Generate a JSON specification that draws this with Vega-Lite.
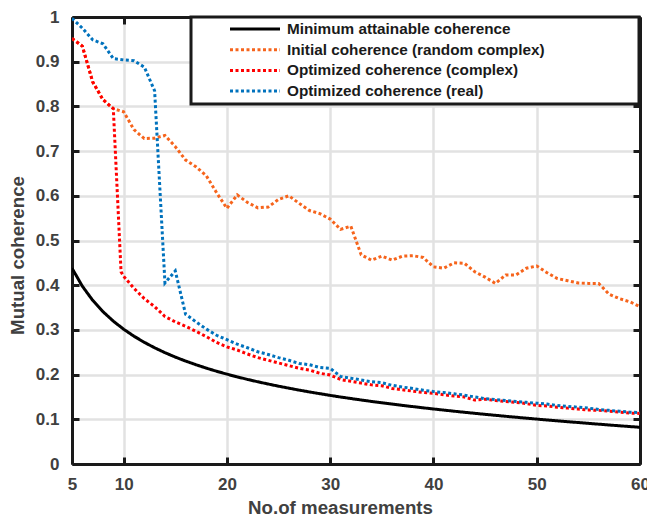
{
  "$schema": "https://vega.github.io/schema/vega-lite/v6.json",
  "width": 568,
  "height": 447,
  "autosize": {"type": "none"},
  "padding": {"left": 72, "top": 17, "right": 7, "bottom": 53},
  "background": "white",
  "data": {"values": [
    {"m": 5, "Minimum attainable coherence": 0.4381, "Initial coherence (random complex)": 0.952, "Optimized coherence (complex)": 0.952, "Optimized coherence (real)": 0.997},
    {"m": 6, "Minimum attainable coherence": 0.3978, "Initial coherence (random complex)": 0.935, "Optimized coherence (complex)": 0.935, "Optimized coherence (real)": 0.975},
    {"m": 7, "Minimum attainable coherence": 0.3663, "Initial coherence (random complex)": 0.855, "Optimized coherence (complex)": 0.855, "Optimized coherence (real)": 0.949},
    {"m": 8, "Minimum attainable coherence": 0.3408, "Initial coherence (random complex)": 0.815, "Optimized coherence (complex)": 0.815, "Optimized coherence (real)": 0.94},
    {"m": 9, "Minimum attainable coherence": 0.3196, "Initial coherence (random complex)": 0.795, "Optimized coherence (complex)": 0.795, "Optimized coherence (real)": 0.907},
    {"m": 9.75, "Optimized coherence (complex)": 0.43},
    {"m": 10, "Minimum attainable coherence": 0.3015, "Initial coherence (random complex)": 0.788, "Optimized coherence (complex)": 0.42, "Optimized coherence (real)": 0.904},
    {"m": 11, "Minimum attainable coherence": 0.2859, "Initial coherence (random complex)": 0.748, "Optimized coherence (complex)": 0.393, "Optimized coherence (real)": 0.902},
    {"m": 12, "Minimum attainable coherence": 0.2722, "Initial coherence (random complex)": 0.728, "Optimized coherence (complex)": 0.37, "Optimized coherence (real)": 0.888},
    {"m": 13, "Minimum attainable coherence": 0.26, "Initial coherence (random complex)": 0.729, "Optimized coherence (complex)": 0.352, "Optimized coherence (real)": 0.835},
    {"m": 14, "Minimum attainable coherence": 0.2491, "Initial coherence (random complex)": 0.735, "Optimized coherence (complex)": 0.33, "Optimized coherence (real)": 0.405},
    {"m": 15, "Minimum attainable coherence": 0.2392, "Initial coherence (random complex)": 0.71, "Optimized coherence (complex)": 0.318, "Optimized coherence (real)": 0.432},
    {"m": 16, "Minimum attainable coherence": 0.2303, "Initial coherence (random complex)": 0.68, "Optimized coherence (complex)": 0.308, "Optimized coherence (real)": 0.335},
    {"m": 17, "Minimum attainable coherence": 0.2221, "Initial coherence (random complex)": 0.665, "Optimized coherence (complex)": 0.297, "Optimized coherence (real)": 0.318},
    {"m": 18, "Minimum attainable coherence": 0.2145, "Initial coherence (random complex)": 0.645, "Optimized coherence (complex)": 0.285, "Optimized coherence (real)": 0.302},
    {"m": 19, "Minimum attainable coherence": 0.2075, "Initial coherence (random complex)": 0.607, "Optimized coherence (complex)": 0.272, "Optimized coherence (real)": 0.288},
    {"m": 20, "Minimum attainable coherence": 0.201, "Initial coherence (random complex)": 0.572, "Optimized coherence (complex)": 0.262, "Optimized coherence (real)": 0.278},
    {"m": 21, "Minimum attainable coherence": 0.1949, "Initial coherence (random complex)": 0.602, "Optimized coherence (complex)": 0.255, "Optimized coherence (real)": 0.268},
    {"m": 22, "Minimum attainable coherence": 0.1892, "Initial coherence (random complex)": 0.585, "Optimized coherence (complex)": 0.246, "Optimized coherence (real)": 0.26},
    {"m": 23, "Minimum attainable coherence": 0.1839, "Initial coherence (random complex)": 0.573, "Optimized coherence (complex)": 0.238, "Optimized coherence (real)": 0.251},
    {"m": 24, "Minimum attainable coherence": 0.1789, "Initial coherence (random complex)": 0.575, "Optimized coherence (complex)": 0.232, "Optimized coherence (real)": 0.245},
    {"m": 25, "Minimum attainable coherence": 0.1741, "Initial coherence (random complex)": 0.592, "Optimized coherence (complex)": 0.226, "Optimized coherence (real)": 0.238},
    {"m": 26, "Minimum attainable coherence": 0.1696, "Initial coherence (random complex)": 0.6, "Optimized coherence (complex)": 0.22, "Optimized coherence (real)": 0.232},
    {"m": 27, "Minimum attainable coherence": 0.1653, "Initial coherence (random complex)": 0.583, "Optimized coherence (complex)": 0.214, "Optimized coherence (real)": 0.225},
    {"m": 28, "Minimum attainable coherence": 0.1612, "Initial coherence (random complex)": 0.567, "Optimized coherence (complex)": 0.21, "Optimized coherence (real)": 0.222},
    {"m": 29, "Minimum attainable coherence": 0.1573, "Initial coherence (random complex)": 0.56, "Optimized coherence (complex)": 0.203, "Optimized coherence (real)": 0.216},
    {"m": 30, "Minimum attainable coherence": 0.1535, "Initial coherence (random complex)": 0.548, "Optimized coherence (complex)": 0.199, "Optimized coherence (real)": 0.214},
    {"m": 31, "Minimum attainable coherence": 0.1499, "Initial coherence (random complex)": 0.525, "Optimized coherence (complex)": 0.189, "Optimized coherence (real)": 0.196},
    {"m": 32, "Minimum attainable coherence": 0.1465, "Initial coherence (random complex)": 0.532, "Optimized coherence (complex)": 0.185, "Optimized coherence (real)": 0.192},
    {"m": 33, "Minimum attainable coherence": 0.1432, "Initial coherence (random complex)": 0.468, "Optimized coherence (complex)": 0.181, "Optimized coherence (real)": 0.188},
    {"m": 34, "Minimum attainable coherence": 0.14, "Initial coherence (random complex)": 0.456, "Optimized coherence (complex)": 0.177, "Optimized coherence (real)": 0.184},
    {"m": 35, "Minimum attainable coherence": 0.137, "Initial coherence (random complex)": 0.465, "Optimized coherence (complex)": 0.175, "Optimized coherence (real)": 0.182},
    {"m": 36, "Minimum attainable coherence": 0.134, "Initial coherence (random complex)": 0.456, "Optimized coherence (complex)": 0.169, "Optimized coherence (real)": 0.176},
    {"m": 37, "Minimum attainable coherence": 0.1311, "Initial coherence (random complex)": 0.465, "Optimized coherence (complex)": 0.166, "Optimized coherence (real)": 0.172},
    {"m": 38, "Minimum attainable coherence": 0.1284, "Initial coherence (random complex)": 0.466, "Optimized coherence (complex)": 0.163, "Optimized coherence (real)": 0.169},
    {"m": 39, "Minimum attainable coherence": 0.1257, "Initial coherence (random complex)": 0.462, "Optimized coherence (complex)": 0.16, "Optimized coherence (real)": 0.165},
    {"m": 40, "Minimum attainable coherence": 0.1231, "Initial coherence (random complex)": 0.441, "Optimized coherence (complex)": 0.158, "Optimized coherence (real)": 0.162},
    {"m": 41, "Minimum attainable coherence": 0.1206, "Initial coherence (random complex)": 0.438, "Optimized coherence (complex)": 0.155, "Optimized coherence (real)": 0.16},
    {"m": 42, "Minimum attainable coherence": 0.1181, "Initial coherence (random complex)": 0.45, "Optimized coherence (complex)": 0.152, "Optimized coherence (real)": 0.157},
    {"m": 43, "Minimum attainable coherence": 0.1157, "Initial coherence (random complex)": 0.449, "Optimized coherence (complex)": 0.15, "Optimized coherence (real)": 0.154},
    {"m": 44, "Minimum attainable coherence": 0.1134, "Initial coherence (random complex)": 0.43, "Optimized coherence (complex)": 0.143, "Optimized coherence (real)": 0.15},
    {"m": 45, "Minimum attainable coherence": 0.1111, "Initial coherence (random complex)": 0.418, "Optimized coherence (complex)": 0.145, "Optimized coherence (real)": 0.146},
    {"m": 46, "Minimum attainable coherence": 0.1089, "Initial coherence (random complex)": 0.404, "Optimized coherence (complex)": 0.142, "Optimized coherence (real)": 0.144},
    {"m": 47, "Minimum attainable coherence": 0.1067, "Initial coherence (random complex)": 0.423, "Optimized coherence (complex)": 0.14, "Optimized coherence (real)": 0.142},
    {"m": 48, "Minimum attainable coherence": 0.1046, "Initial coherence (random complex)": 0.423, "Optimized coherence (complex)": 0.138, "Optimized coherence (real)": 0.14},
    {"m": 49, "Minimum attainable coherence": 0.1025, "Initial coherence (random complex)": 0.438, "Optimized coherence (complex)": 0.135, "Optimized coherence (real)": 0.138},
    {"m": 50, "Minimum attainable coherence": 0.1005, "Initial coherence (random complex)": 0.443, "Optimized coherence (complex)": 0.131, "Optimized coherence (real)": 0.136},
    {"m": 51, "Minimum attainable coherence": 0.0985, "Initial coherence (random complex)": 0.428, "Optimized coherence (complex)": 0.13, "Optimized coherence (real)": 0.134},
    {"m": 52, "Minimum attainable coherence": 0.0966, "Initial coherence (random complex)": 0.415, "Optimized coherence (complex)": 0.127, "Optimized coherence (real)": 0.131},
    {"m": 53, "Minimum attainable coherence": 0.0946, "Initial coherence (random complex)": 0.41, "Optimized coherence (complex)": 0.125, "Optimized coherence (real)": 0.129},
    {"m": 54, "Minimum attainable coherence": 0.0928, "Initial coherence (random complex)": 0.405, "Optimized coherence (complex)": 0.123, "Optimized coherence (real)": 0.127},
    {"m": 55, "Minimum attainable coherence": 0.0909, "Initial coherence (random complex)": 0.404, "Optimized coherence (complex)": 0.121, "Optimized coherence (real)": 0.125},
    {"m": 56, "Minimum attainable coherence": 0.0891, "Initial coherence (random complex)": 0.404, "Optimized coherence (complex)": 0.12, "Optimized coherence (real)": 0.122},
    {"m": 57, "Minimum attainable coherence": 0.0873, "Initial coherence (random complex)": 0.38, "Optimized coherence (complex)": 0.118, "Optimized coherence (real)": 0.12},
    {"m": 58, "Minimum attainable coherence": 0.0855, "Initial coherence (random complex)": 0.37, "Optimized coherence (complex)": 0.116, "Optimized coherence (real)": 0.118},
    {"m": 59, "Minimum attainable coherence": 0.0838, "Initial coherence (random complex)": 0.363, "Optimized coherence (complex)": 0.114, "Optimized coherence (real)": 0.116},
    {"m": 60, "Minimum attainable coherence": 0.0821, "Initial coherence (random complex)": 0.352, "Optimized coherence (complex)": 0.113, "Optimized coherence (real)": 0.115}
  ]},
  "transform": [
    {"fold": ["Minimum attainable coherence", "Initial coherence (random complex)", "Optimized coherence (complex)", "Optimized coherence (real)"], "as": ["series", "v"]},
    {"filter": "isValid(datum.v)"}
  ],
  "layer": [
    {
      "mark": {"type": "line", "strokeWidth": 3, "clip": true},
      "encoding": {
        "x": {"field": "m", "type": "quantitative",
          "scale": {"domain": [5, 60], "nice": false, "zero": false},
          "axis": {"values": [5, 10, 20, 30, 40, 50, 60], "title": "No.of measurements", "labelPadding": 19, "titleX": 268, "titleY": 49.5, "titleBaseline": "alphabetic", "grid": true, "labelFlush": false, "labelOverlap": false}},
        "y": {"field": "v", "type": "quantitative",
          "scale": {"domain": [0, 1], "nice": false, "zero": false},
          "axis": {"values": [0, 0.1, 0.2, 0.3, 0.4, 0.5, 0.6, 0.7, 0.8, 0.9, 1], "format": "~g", "title": "Mutual coherence", "labelPadding": 20, "titleX": -55, "titleY": 238, "titleBaseline": "middle", "grid": true, "labelFlush": false, "labelOverlap": false}},
        "color": {"field": "series", "type": "nominal",
          "scale": {"domain": ["Minimum attainable coherence", "Initial coherence (random complex)", "Optimized coherence (complex)", "Optimized coherence (real)"],
                    "range": ["#000000", "#f6641c", "#ff0000", "#0072bd"]},
          "legend": {"title": null, "labelExpr": "datum.label == 'Initial coherence (random complex)' ? datum.label + '\u00a0\u2800\u2800\u2800\u2800\u2800\u2800\u2800\u2800' : datum.label"}},
        "strokeDash": {"field": "series", "type": "nominal",
          "scale": {"domain": ["Minimum attainable coherence", "Initial coherence (random complex)", "Optimized coherence (complex)", "Optimized coherence (real)"],
                    "range": [[1, 0], [3, 2.5], [3, 2.5], [3, 2.5]]},
          "legend": {"title": null, "labelExpr": "datum.label == 'Initial coherence (random complex)' ? datum.label + '\u00a0\u2800\u2800\u2800\u2800\u2800\u2800\u2800\u2800' : datum.label"}}
      }
    },
    {
      "mark": {"type": "line", "opacity": 0},
      "encoding": {
        "x": {"field": "m", "type": "quantitative",
          "axis": {"orient": "top", "values": [5, 10, 20, 30, 40, 50, 60], "labels": false, "title": null, "grid": false, "domain": true}},
        "y": {"field": "v", "type": "quantitative",
          "axis": {"orient": "right", "values": [0, 0.1, 0.2, 0.3, 0.4, 0.5, 0.6, 0.7, 0.8, 0.9, 1], "labels": false, "title": null, "grid": false, "domain": true}}
      }
    }
  ],
  "resolve": {"axis": {"x": "independent", "y": "independent"}},
  "config": {
    "font": "Liberation Sans",
    "view": {"stroke": null},
    "axis": {
      "labelFont": "Liberation Sans", "labelFontWeight": "bold", "labelFontSize": 17, "labelColor": "#404040",
      "titleFont": "Liberation Sans", "titleFontWeight": "bold", "titleFontSize": 18.7, "titleColor": "#404040",
      "tickColor": "#1a1a1a", "tickWidth": 3, "tickSize": -7,
      "domain": true, "domainColor": "#1a1a1a", "domainWidth": 3,
      "gridColor": "#e2e2e2", "gridWidth": 2.5, "gridOpacity": 1
    },
    "legend": {
      "orient": "none", "legendX": 119, "legendY": 0,
      "symbolType": "stroke", "symbolSize": 2500, "symbolStrokeWidth": 3,
      "clipHeight": 20, "rowPadding": 0.7, "symbolOffset": 35.5, "labelOffset": 5.5,
      "labelFont": "Liberation Sans", "labelFontWeight": "bold", "labelFontSize": 15.3, "labelColor": "#1a1a1a", "labelLimit": 600,
      "padding": 2, "strokeColor": "#1a1a1a", "fillColor": "white", "strokeWidth": 3
    }
  }
}
